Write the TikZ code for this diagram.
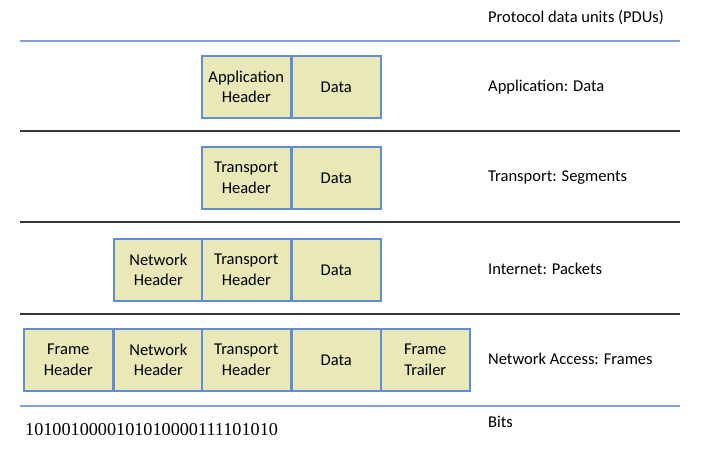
\documentclass[tikz,border=0pt]{standalone}
\usepackage{fontspec}
\setmainfont{Carlito}
\newfontfamily\bitsfont{Liberation Serif}
\definecolor{boxfill}{RGB}{232,232,184}
\definecolor{boxline}{RGB}{100,140,210}
\definecolor{blueline}{RGB}{130,160,215}
\definecolor{greyline}{RGB}{55,55,55}
\begin{document}
\begin{tikzpicture}[x=1pt,y=1pt,
  pdu/.style={draw=boxline,line width=1.6pt,fill=boxfill,minimum width=89pt,minimum height=62pt,
    inner sep=0pt,align=center,font=\fontsize{16.5}{20.5}\selectfont,anchor=north west},
  lbl/.style={anchor=west,inner sep=0pt,font=\fontsize{16.5}{20}\selectfont},
  sep/.style={line width=2.2pt,draw=greyline},
  bsep/.style={line width=2pt,draw=blueline}]
\useasboundingbox (0,0) rectangle (702,458);
% separators
\coordinate (l0a) at (20,417); \coordinate (l0b) at (680,417);
\coordinate (l1a) at (20,327); \coordinate (l1b) at (680,327);
\coordinate (l2a) at (20,236); \coordinate (l2b) at (680,236);
\coordinate (l3a) at (20,144); \coordinate (l3b) at (680,144);
\coordinate (l4a) at (20,52); \coordinate (l4b) at (680,52);
\draw[bsep] (l0a) -- (l0b);
\draw[sep] (l1a) -- (l1b);
\draw[sep] (l2a) -- (l2b);
\draw[sep] (l3a) -- (l3b);
\draw[bsep] (l4a) -- (l4b);
% application row
\node[pdu] (ah) at (201,403) {Application\\Header};
\node[pdu] (ad) at (291,403) {Data};
% transport row
\node[pdu] (th) at (201,312) {Transport\\Header};
\node[pdu] (td) at (291,312) {Data};
% internet row
\node[pdu] (in) at (113,220) {Network\\Header};
\node[pdu] (it) at (201,220) {Transport\\Header};
\node[pdu] (id) at (291,220) {Data};
% network access row
\node[pdu] (ff) at (23,130) {Frame\\Header};
\node[pdu] (fn) at (113,130) {Network\\Header};
\node[pdu] (ft) at (201,130) {Transport\\Header};
\node[pdu] (fd) at (291,130) {Data};
\node[pdu] (fr) at (380,130) {Frame\\Trailer};
% labels
\node[lbl] (t0) at (488,440) {Protocol data units (PDUs)};
\node[lbl] (t1) at (488,371) {Application: Data};
\node[lbl] (t2) at (488,280) {Transport: Segments};
\node[lbl] (t3) at (488,189) {Internet: Packets};
\node[lbl] (t4) at (488,99) {Network Access: Frames};
\node[lbl] (t5) at (488,36) {Bits};
\node[anchor=west,inner sep=0pt,font=\bitsfont\fontsize{18.2}{20}\selectfont] (bits) at (25,28) {1010010000101010000111101010};
\end{tikzpicture}
\end{document}
